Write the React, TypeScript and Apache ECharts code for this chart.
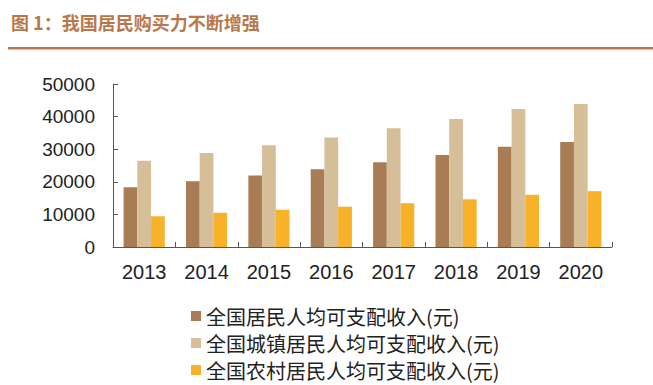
import React, { useEffect, useRef } from "react";
import * as echarts from "echarts";

const years = ["2013", "2014", "2015", "2016", "2017", "2018", "2019", "2020"];
const national = [18311, 20167, 21966, 23821, 25974, 28228, 30733, 32189];
const urban = [26467, 28844, 31195, 33616, 36396, 39251, 42359, 43834];
const rural = [9430, 10489, 11422, 12363, 13432, 14617, 16021, 17131];
const seriesNames = [
  "全国居民人均可支配收入(元)",
  "全国城镇居民人均可支配收入(元)",
  "全国农村居民人均可支配收入(元)",
];
const colors = ["#a87d55", "#d6be98", "#f7b22a"];

export default function App() {
  const ref = useRef<HTMLDivElement>(null);
  useEffect(() => {
    const chart = echarts.init(ref.current!, null, { renderer: "svg" });
    chart.setOption({
      animation: false,
      backgroundColor: "#ffffff",
      graphic: [
        {
          type: "text",
          left: 11,
          top: 13,
          style: {
            text: "图 1：我国居民购买力不断增强",
            font: "bold 18px 'Noto Sans CJK SC'",
            fill: "#b8784c",
          },
        },
        {
          type: "rect",
          shape: { x: 8, y: 47, width: 645, height: 2.5 },
          style: { fill: "#b8784c" },
        },
      ],
      grid: { left: 113, right: 41, top: 84, bottom: 138 },
      legend: {
        orient: "vertical",
        left: 191,
        top: 305,
        height: 80,
        padding: 0,
        itemGap: 5,
        itemWidth: 10,
        itemHeight: 10,
        icon: "rect",
        textStyle: {
          fontSize: 20,
          lineHeight: 22,
          color: "#222",
          fontFamily: "'Noto Sans CJK SC'",
        },
        data: seriesNames,
      },
      xAxis: {
        type: "category",
        data: years,
        axisLine: { lineStyle: { color: "#555", width: 1 } },
        axisTick: { show: true, inside: true, length: 5, lineStyle: { color: "#555" } },
        axisLabel: { fontSize: 20, color: "#222", margin: 15, fontFamily: "Liberation Sans" },
      },
      yAxis: {
        type: "value",
        min: 0,
        max: 50000,
        interval: 10000,
        splitLine: { show: false },
        axisLine: { show: true, lineStyle: { color: "#555", width: 1 } },
        axisTick: { show: true, inside: true, length: 5, lineStyle: { color: "#555" } },
        axisLabel: {
          fontSize: 19,
          color: "#222",
          margin: 18,
          fontFamily: "Liberation Sans",
          formatter: (v: number) => String(v),
        },
      },
      series: [national, urban, rural].map((d, i) => ({
        name: seriesNames[i],
        type: "bar",
        data: d,
        barGap: "0%",
        barCategoryGap: "34%",
        itemStyle: { color: colors[i] },
      })),
    });
    return () => chart.dispose();
  }, []);
  return <div ref={ref} style={{ width: 653, height: 385, position: "fixed", left: 0, top: 0 }} />;
}
